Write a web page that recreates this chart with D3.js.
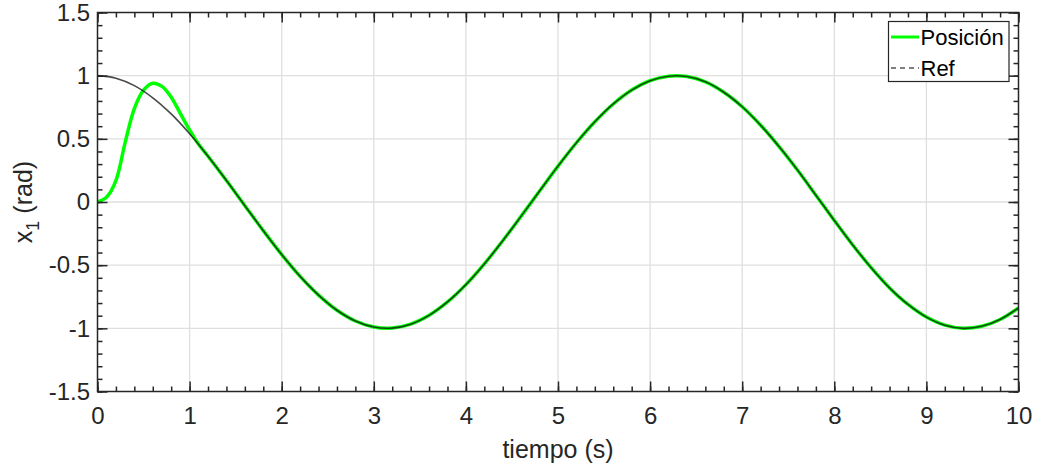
<!DOCTYPE html>
<html>
<head>
<meta charset="utf-8">
<script src="https://cdn.jsdelivr.net/npm/d3@7"></script>
<style>
  html, body { margin: 0; padding: 0; background: #fff; }
  svg { display: block; font-family: "Liberation Sans", Arial, Helvetica, sans-serif; }
</style>
</head>
<body>
<svg id="chart" width="1037" height="469"></svg>
<script>
// ---- data ----
const refTime = [0,0.2,0.4,0.6,0.8,1.0,1.2,1.4,1.6,1.8,2.0,2.2,2.4,2.6,2.8,3.0,3.2,3.4,3.6,3.8,4.0,4.2,4.4,4.6,4.8,5.0,5.2,5.4,5.6,5.8,6.0,6.2,6.4,6.6,6.8,7.0,7.2,7.4,7.6,7.8,8.0,8.2,8.4,8.6,8.8,9.0,9.2,9.4,9.6,9.8,10.0];
const refValues = [1,0.980,0.921,0.825,0.697,0.540,0.362,0.170,-0.029,-0.227,-0.416,-0.589,-0.737,-0.857,-0.942,-0.990,-0.998,-0.967,-0.897,-0.791,-0.654,-0.490,-0.307,-0.112,0.087,0.284,0.469,0.635,0.776,0.886,0.960,0.996,0.993,0.951,0.869,0.754,0.608,0.439,0.253,0.054,-0.146,-0.340,-0.520,-0.680,-0.811,-0.911,-0.975,-1.000,-0.984,-0.930,-0.839];
const posTime = [0,0.1,0.2,0.3,0.4,0.5,0.6,0.7,0.8,0.9,1.0,1.1,1.2,1.4,1.6,1.8,2.0,2.2,2.4,2.6,2.8,3.0,3.2,3.4,3.6,3.8,4.0,4.2,4.4,4.6,4.8,5.0,5.2,5.4,5.6,5.8,6.0,6.2,6.4,6.6,6.8,7.0,7.2,7.4,7.6,7.8,8.0,8.2,8.4,8.6,8.8,9.0,9.2,9.4,9.6,9.8,10.0];
const posValues = [0,0.04,0.17,0.47,0.74,0.885,0.94,0.915,0.83,0.70,0.57,0.455,0.362,0.170,-0.029,-0.227,-0.416,-0.589,-0.737,-0.857,-0.942,-0.990,-0.998,-0.967,-0.897,-0.791,-0.654,-0.490,-0.307,-0.112,0.087,0.284,0.469,0.635,0.776,0.886,0.960,0.996,0.993,0.951,0.869,0.754,0.608,0.439,0.253,0.054,-0.146,-0.340,-0.520,-0.680,-0.811,-0.911,-0.975,-1.000,-0.984,-0.930,-0.839];
const xTicks = [0,1,2,3,4,5,6,7,8,9,10];
const yTicks = [-1.5,-1,-0.5,0,0.5,1,1.5];
const xMinor = d3.range(0, 10.0001, 0.2);
const yMinor = d3.range(-1.5, 1.5001, 0.1);
const seriesNames = ["Posición", "Ref"];

// ---- layout ----
const svg = d3.select("#chart");
const L = 97.5, R = 1018.5, T = 12.5, B = 391.5;
const x = d3.scaleLinear().domain([0, 10]).range([L, R]);
const y = d3.scaleLinear().domain([-1.5, 1.5]).range([B, T]);
const axisColor = "#262626";
const FONT = "Liberation Sans, Arial, sans-serif";

// grid
const grid = svg.append("g");
grid.selectAll(".gx").data(xTicks.slice(1, -1)).join("line")
  .attr("x1", d => x(d)).attr("x2", d => x(d)).attr("y1", T).attr("y2", B)
  .attr("stroke", "#dfdfdf").attr("stroke-width", 1.3);
grid.selectAll(".gy").data(yTicks.slice(1, -1)).join("line")
  .attr("y1", d => y(d)).attr("y2", d => y(d)).attr("x1", L).attr("x2", R)
  .attr("stroke", "#dfdfdf").attr("stroke-width", 1.3);

// lines
const posData = posTime.map((t, i) => [t, posValues[i]]);
const refData = refTime.map((t, i) => [t, refValues[i]]);
const line = d3.line().x(d => x(d[0])).y(d => y(d[1])).curve(d3.curveCatmullRom.alpha(0.5));
svg.append("path").datum(posData).attr("d", line)
  .attr("fill", "none").attr("stroke", "#00ff00").attr("stroke-width", 3.5);
svg.append("path").datum(refData).attr("d", line)
  .attr("fill", "none").attr("stroke", "#1a1a1a").attr("stroke-opacity", 0.8).attr("stroke-width", 1.6);

// axes with inward ticks on all four sides
function inward(axisGen, transform) {
  const g = svg.append("g").attr("transform", transform).call(axisGen);
  g.select(".domain").remove();
  g.selectAll("line").attr("stroke", axisColor).attr("stroke-width", 1.5);
  return g;
}
const fmt = d => String(d);
// bottom
inward(d3.axisBottom(x).tickValues(xMinor).tickSize(-5).tickFormat(""), `translate(0,${B})`);
const gxb = inward(d3.axisBottom(x).tickValues(xTicks).tickSize(-10).tickPadding(15.5).tickFormat(d3.format("d")), `translate(0,${B})`);
gxb.selectAll("text").attr("font-size", 24).attr("fill", axisColor).attr("font-family", FONT);
// top
inward(d3.axisTop(x).tickValues(xMinor).tickSize(-5).tickFormat(""), `translate(0,${T})`);
inward(d3.axisTop(x).tickValues(xTicks).tickSize(-10).tickFormat(""), `translate(0,${T})`);
// left
inward(d3.axisLeft(y).tickValues(yMinor).tickSize(-5).tickFormat(""), `translate(${L},0)`);
const gyl = inward(d3.axisLeft(y).tickValues(yTicks).tickSize(-10).tickPadding(7.5).tickFormat(fmt), `translate(${L},0)`);
gyl.selectAll("text").attr("font-size", 24).attr("fill", axisColor).attr("font-family", FONT);
// right
inward(d3.axisRight(y).tickValues(yMinor).tickSize(-5).tickFormat(""), `translate(${R},0)`);
inward(d3.axisRight(y).tickValues(yTicks).tickSize(-10).tickFormat(""), `translate(${R},0)`);

// box
svg.append("rect").attr("x", L).attr("y", T).attr("width", R - L).attr("height", B - T)
  .attr("fill", "none").attr("stroke", axisColor).attr("stroke-width", 1.5);

// axis labels
svg.append("text").attr("x", (L + R) / 2).attr("y", 458).attr("text-anchor", "middle")
  .attr("font-size", 25).attr("fill", axisColor).text("tiempo (s)");
const yl = svg.append("text").attr("transform", `translate(32,${(T + B) / 2}) rotate(-90)`)
  .attr("text-anchor", "middle").attr("font-size", 25).attr("fill", axisColor);
yl.append("tspan").text("x");
yl.append("tspan").attr("font-size", 18).attr("dy", 7).text("1");
yl.append("tspan").attr("dy", -7).text(" (rad)");

// legend
const lg = svg.append("g");
lg.append("rect").attr("x", 888.5).attr("y", 21.5).attr("width", 120.5).attr("height", 60)
  .attr("fill", "#fff").attr("stroke", axisColor).attr("stroke-width", 1.2);
const items = [
  { name: seriesNames[0], color: "#00ff00", width: 3, dash: null, yy: 37 },
  { name: seriesNames[1], color: "#000", width: 1.2, dash: "5,4", yy: 68 }
];
items.forEach(it => {
  lg.append("line").attr("x1", 891).attr("x2", 919).attr("y1", it.yy).attr("y2", it.yy)
    .attr("stroke", it.color).attr("stroke-width", it.width).attr("stroke-dasharray", it.dash);
  lg.append("text").attr("x", 920.5).attr("y", it.yy + 8).attr("font-size", 22)
    .attr("fill", "#000").attr("font-family", FONT).text(it.name);
});
</script>
</body>
</html>
